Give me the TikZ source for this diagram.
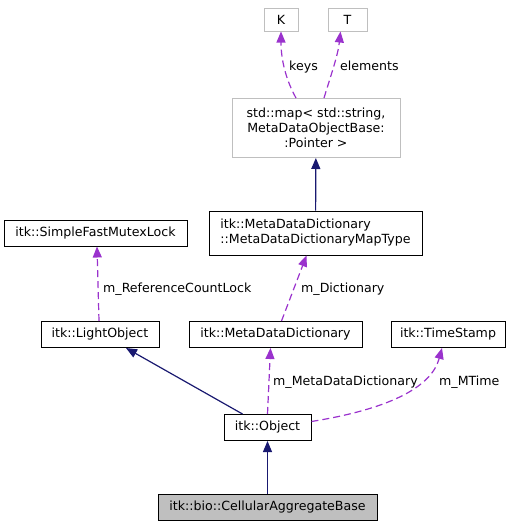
\documentclass[tikz,border=0pt]{standalone}
\usepackage{fontspec}
\setmainfont{DejaVu Sans}
\usetikzlibrary{arrows.meta}
\definecolor{inhblue}{HTML}{191970}
\definecolor{usepurple}{HTML}{9A32CD}
\definecolor{boxgray}{HTML}{BFBFBF}
\begin{document}
\begin{tikzpicture}[x=1pt,y=-1pt,font=\fontsize{12.6}{15}\selectfont,
  cls/.style={draw=black,line width=1pt,minimum height=26pt,inner sep=0pt},
  tmpl/.style={draw=boxgray,line width=1pt,minimum height=23pt,inner sep=0pt},
  inh/.style={draw=inhblue,line width=1.2pt,-{Triangle[length=11pt,width=9pt]}},
  use/.style={draw=usepurple,line width=1.2pt,dash pattern=on 7pt off 4pt,-{Triangle[length=11pt,width=9pt]}},
  lbl/.style={inner sep=0pt,anchor=base west}]
\useasboundingbox (0,0) rectangle (515,528);
\node [cls,minimum width=219pt,fill=boxgray] (cab) at (267.5,507.5) {itk::bio::CellularAggregateBase};
\node [cls,minimum width=87pt] (obj) at (267.5,427.5) {itk::Object};
\node [cls,minimum width=118pt] (lo) at (100,334.5) {itk::LightObject};
\node [cls,minimum width=173pt] (mdd) at (275.5,334.5) {itk::MetaDataDictionary};
\node [cls,minimum width=114pt] (ts) at (448,334.5) {itk::TimeStamp};
\node [cls,minimum width=183pt] (mtx) at (95.5,233) {itk::SimpleFastMutexLock};
\node [cls,minimum width=213pt,minimum height=44pt,align=left] (mt) at (315.5,233) {itk::MetaDataDictionary\\::MetaDataDictionaryMapType};
\node [tmpl,minimum width=168pt,minimum height=59pt,align=center] (map) at (316,128) {std::map< std::string,\\MetaDataObjectBase:\\:Pointer >};
\node [tmpl,minimum width=34pt] (k) at (281,19.5) {K};
\node [tmpl,minimum width=39pt] (t) at (347.5,19.5) {T};
\draw [inh] (cab) -- (obj);
\draw [inh] ([xshift=19pt]obj.north west) -- ([xshift=26pt]lo.south);
\draw [use] (obj.north) -- ([xshift=-5pt]mdd.south);
\node [lbl] (lmdd) at (273,385) {m\_MetaDataDictionary};
\draw [use] ([yshift=6pt]obj.east) .. controls (395,408) and (432,385) .. ([xshift=-6pt]ts.south);
\node [lbl] (lts) at (439,385) {m\_MTime};
\draw [use] ([xshift=6pt]mdd.north) -- ([xshift=-9pt]mt.south);
\node [lbl] (lmt) at (301,292.5) {m\_Dictionary};
\draw [use] ([xshift=-1pt]lo.north) -- ([xshift=1.5pt]mtx.south);
\node [lbl] (lmtx) at (103,292.5) {m\_ReferenceCountLock};
\draw [inh] (mt) -- (map);
\draw [use] ([xshift=-20pt]map.north) .. controls (286,80) and (281,60) .. (k.south);
\node [lbl] (lk) at (289,70.5) {keys};
\draw [use] ([xshift=8pt]map.north) .. controls (331,75) and (338,55) .. ([xshift=-7pt]t.south);
\node [lbl] (lt) at (340,70.5) {elements};
\end{tikzpicture}
\end{document}
